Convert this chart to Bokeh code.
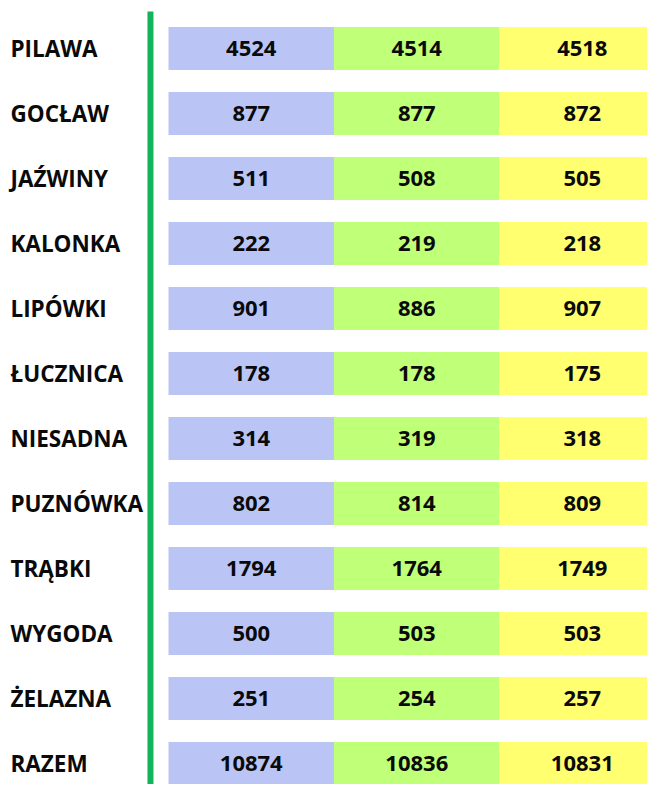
from bokeh.plotting import figure
from bokeh.models import Range1d, ColumnDataSource
from bokeh.core.properties import value
from bokeh.embed import file_html
from bokeh.resources import INLINE

# ---- data ----
villages = ["PILAWA", "GOCŁAW", "JAŹWINY", "KALONKA", "LIPÓWKI", "ŁUCZNICA",
            "NIESADNA", "PUZNÓWKA", "TRĄBKI", "WYGODA", "ŻELAZNA", "RAZEM"]
series_1 = [4524, 877, 511, 222, 901, 178, 314, 802, 1794, 500, 251, 10874]
series_2 = [4514, 877, 508, 219, 886, 178, 319, 814, 1764, 503, 254, 10836]
series_3 = [4518, 872, 505, 218, 907, 175, 318, 809, 1749, 503, 257, 10831]
series = [series_1, series_2, series_3]
column_colors = ["#BAC5F6", "#C0FF78", "#FFFF70"]

FONT = value("Open Sans")

p = figure(width=647, height=784, output_backend="svg", toolbar_location=None,
           x_range=Range1d(-1.015, 2.894), y_range=Range1d(11.323, -0.738),
           min_border=0, outline_line_color=None)
p.axis.visible = False
p.grid.visible = False
p.background_fill_color = "white"
p.border_fill_color = "white"

rows = list(range(len(villages)))

for ci, vals in enumerate(series):
    src = ColumnDataSource(dict(
        x=[ci + 0.5] * len(vals),
        y=rows,
        txt=[str(v) for v in vals],
    ))
    p.rect(x="x", y="y", width=1.0, height=0.66, source=src,
           fill_color=column_colors[ci], line_color=None)
    p.text(x="x", y="y", text="txt", source=src, text_font=FONT,
           text_font_style="bold", text_font_size="22px", text_color="#0A0A0A",
           text_align="center", text_baseline="middle")

lab_src = ColumnDataSource(dict(x=[-0.955] * len(villages), y=rows, txt=villages))
p.text(x="x", y="y", text="txt", source=lab_src, text_font=FONT,
       text_font_style="bold", text_font_size="22.5px", text_color="#0A0A0A",
       text_align="left", text_baseline="middle")

# green divider line
p.segment(x0=[-0.109], y0=[-0.569], x1=[-0.109], y1=[12.0],
          line_color="#12B35A", line_width=6)

open("out.html", "w").write(file_html(p, INLINE))
